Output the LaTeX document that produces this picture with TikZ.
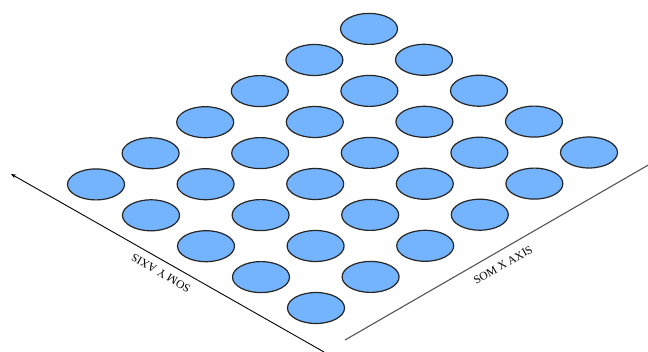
\documentclass[tikz,border=0pt]{standalone}
\usepackage{fontspec}
\setmainfont{Liberation Serif}
\usetikzlibrary{shapes.geometric,arrows.meta}
\definecolor{cellblue}{HTML}{74B4FF}
\definecolor{celledge}{HTML}{262626}
\definecolor{xaxisgray}{HTML}{555555}
\tikzset{
  cell/.style={ellipse,draw=celledge,line width=1.2pt,fill=cellblue,minimum width=57pt,minimum height=31pt,inner sep=0pt},
  axislabel/.style={font=\fontsize{11.5}{13}\selectfont,inner sep=1pt},
  yaxisline/.style={draw=black,line width=0.9pt,-{Stealth[length=5pt,width=4pt]}},
  xaxisline/.style={draw=xaxisgray,line width=1.1pt}
}
\begin{document}
\begin{tikzpicture}[x=1pt,y=-1pt]
\useasboundingbox (0,0) rectangle (648,351);
% lattice: base (316,308), X step (54.6,-31.1), Y step (-55,-30.9)
\foreach \i in {0,...,5}{
  \foreach \j in {0,...,4}{
    \node[cell] (n-\i-\j) at ({316+54.6*\i-55*\j},{308-31.1*\i-30.9*\j}) {};
  }
}
\coordinate (ystart) at (324,352);
\coordinate (yend) at (11,174);
\coordinate (xstart) at (345,340);
\coordinate (xend) at (650,164);
\draw[yaxisline] (ystart) -- (yend);
\draw[xaxisline] (xstart) -- (xend);
\node[axislabel,rotate=150] (ylab) at (161,273) {SOM Y AXIS};
\node[axislabel,rotate=30] (xlab) at (503,265) {SOM X AXIS};
\end{tikzpicture}
\end{document}
